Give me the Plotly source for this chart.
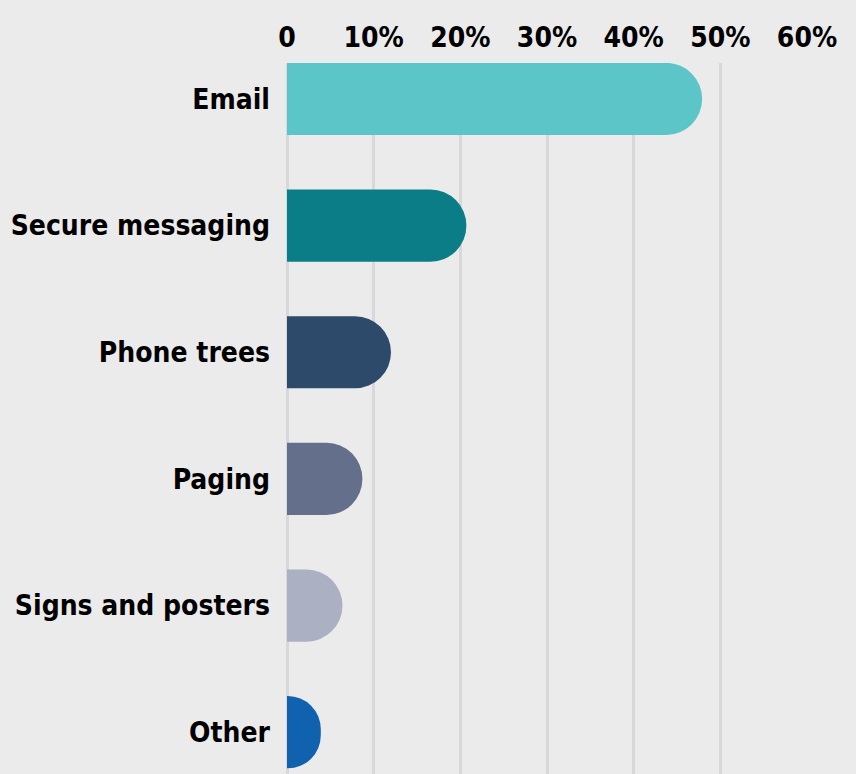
import plotly.graph_objects as go

categories = ["Email", "Secure messaging", "Phone trees", "Paging", "Signs and posters", "Other"]
values = [47.9, 20.7, 12.0, 8.7, 6.4, 3.9]
colors = ["#5BC5C7", "#0A7D87", "#2E4A6B", "#646F8C", "#ABB1C3", "#1062AE"]
tick_vals = [0, 10, 20, 30, 40, 50, 60]
tick_text = ["0", "10%", "20%", "30%", "40%", "50%", "60%"]

FONT = "DejaVu Sans Condensed, Liberation Sans Narrow, sans-serif"
FSIZE = 28

fig = go.Figure(
    go.Bar(
        x=values,
        y=categories,
        orientation="h",
        marker=dict(color=colors, line=dict(width=0), cornerradius=36),
        width=0.57,
        hoverinfo="x+y",
    )
)

fig.update_layout(
    width=856,
    height=774,
    margin=dict(l=287, r=49, t=63, b=0, autoexpand=False),
    paper_bgcolor="#EBEBEB",
    plot_bgcolor="#EBEBEB",
    showlegend=False,
    font=dict(family=FONT, size=FSIZE, color="#000000"),
    xaxis=dict(
        side="top",
        range=[0, 60],
        tickvals=tick_vals,
        ticktext=tick_text,
        showgrid=True,
        gridcolor="#D8D8DB",
        gridwidth=3,
        zeroline=True,
        zerolinecolor="#D8D8DB",
        zerolinewidth=3,
        showline=False,
        ticks="",
        automargin=False,
        ticklabelstandoff=9,
        tickfont=dict(family=FONT, size=FSIZE, color="#000000", weight="bold"),
        fixedrange=True,
    ),
    yaxis=dict(
        type="category",
        categoryorder="array",
        categoryarray=categories,
        range=[5.33, -0.284],
        showgrid=False,
        zeroline=False,
        showline=False,
        ticks="",
        automargin=False,
        ticklabelstandoff=16,
        tickfont=dict(family=FONT, size=FSIZE, color="#000000", weight="bold"),
        fixedrange=True,
    ),
)

fig.write_html(
    "out.html",
    config={"displayModeBar": False},
    post_script="document.body.style.margin='0';document.body.style.background='#EBEBEB';",
)
